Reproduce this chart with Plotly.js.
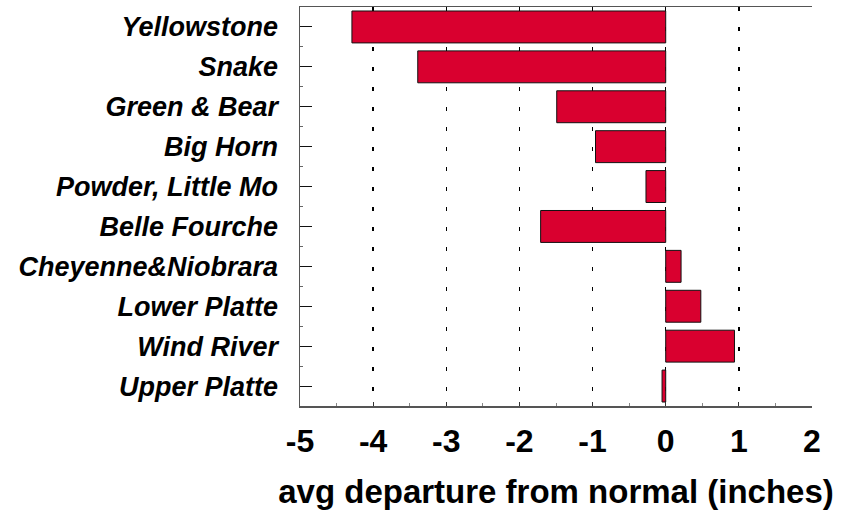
<!DOCTYPE html>
<html>
<head>
<meta charset="utf-8">
<script src="https://cdn.plot.ly/plotly-3.0.1.min.js"></script>
<style>html,body{margin:0;padding:0;background:#fff;}#chart{width:843px;height:529px;}</style>
</head>
<body>
<div id="chart"></div>
<script>
var basins = ["Yellowstone", "Snake", "Green & Bear", "Big Horn", "Powder, Little Mo",
  "Belle Fourche", "Cheyenne&Niobrara", "Lower Platte", "Wind River", "Upper Platte"];
var departure = [-4.29, -3.39, -1.49, -0.96, -0.27, -1.71, 0.21, 0.48, 0.94, -0.05];
var xTicks = [-5, -4, -3, -2, -1, 0, 1, 2];

var positions = basins.map(function (_, i) { return i; });

var trace = {
  type: "bar",
  orientation: "h",
  x: departure,
  y: positions,
  width: 0.8,
  marker: { color: "#D9002F", line: { color: "#111111", width: 1 } },
  hoverinfo: "x+text",
  text: basins,
  textposition: "none"
};

var layout = {
  width: 843,
  height: 529,
  margin: { l: 300, r: 31, t: 7, b: 123 },
  paper_bgcolor: "#ffffff",
  plot_bgcolor: "#ffffff",
  showlegend: false,
  bargap: 0.2,
  xaxis: {
    range: [-5, 2],
    tickmode: "array",
    tickvals: xTicks,
    ticktext: xTicks.map(String),
    ticks: "inside",
    ticklen: 4,
    tickcolor: "#333",
    ticklabelstandoff: 6,
    tickfont: { family: "Liberation Sans, Arial, sans-serif", size: 32, color: "#000", weight: "bold" },
    showline: true,
    linecolor: "#555",
    linewidth: 1.5,
    mirror: true,
    showgrid: true,
    gridcolor: "#000",
    gridwidth: 1.3,
    griddash: "3.5px,16.5px",
    zeroline: false,
    minor: { ticks: "inside", ticklen: 3, tickcolor: "#888", tick0: -4.5, dtick: 1, showgrid: false },
    title: { text: "avg departure from normal (inches)", standoff: 22,
      font: { family: "Liberation Sans, Arial, sans-serif", size: 33, color: "#000", weight: "bold" } },
    fixedrange: true
  },
  yaxis: {
    range: [9.5, -0.5],
    tickmode: "array",
    tickvals: positions,
    ticktext: basins,
    ticks: "inside",
    ticklen: 12,
    tickcolor: "#111",
    ticklabelstandoff: 15,
    tickfont: { family: "Liberation Sans, Arial, sans-serif", size: 27, color: "#000", weight: "bold", style: "italic" },
    showline: true,
    linecolor: "#555",
    linewidth: 1.5,
    mirror: false,
    showgrid: false,
    zeroline: false,
    minor: { ticks: "inside", ticklen: 3, tickcolor: "#666", tick0: 0.5, dtick: 1, showgrid: false },
    fixedrange: true
  }
};

Plotly.newPlot("chart", [trace], layout, { displayModeBar: false, staticPlot: true });
</script>
</body>
</html>
